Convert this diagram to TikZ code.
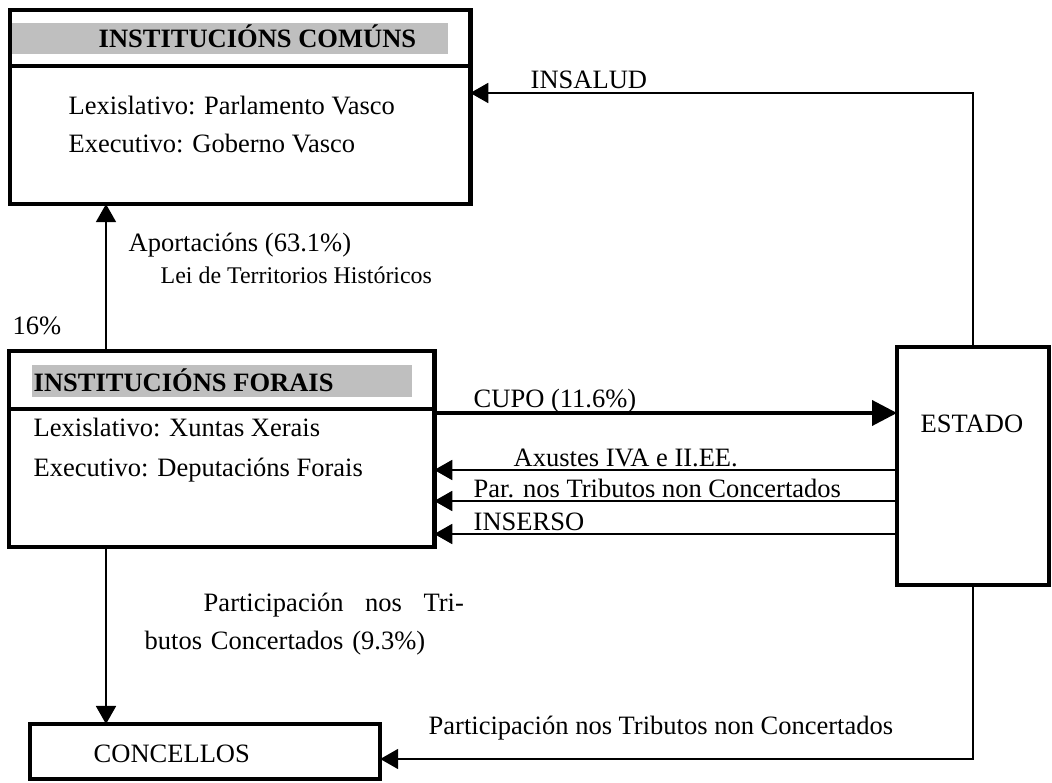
\documentclass[tikz,border=0pt]{standalone}
\usepackage{fontspec}
\setmainfont{Liberation Serif}
\usetikzlibrary{arrows.meta,positioning}

\begin{document}
\begin{tikzpicture}[x=0.01cm,y=-0.01cm,
  box/.style={draw,line width=1.3pt,anchor=north west,inner sep=0pt,outer sep=0pt},
  band/.style={fill=black!25,anchor=north west,inner sep=0pt,outer sep=0pt},
  lbl/.style={anchor=base west,inner sep=0pt,font=\fontsize{7.54}{10.8}\selectfont},
  ttl/.style={lbl,font=\fontsize{7.54}{10.8}\selectfont\bfseries},
  small/.style={lbl,font=\fontsize{6.8}{8.5}\selectfont},
  sepline/.style={line width=1.1pt},
  arr/.style={line width=0.5pt,-{Triangle[length=0.18cm,width=0.2cm]}},
  bigarr/.style={line width=1.1pt,-{Triangle[length=0.25cm,width=0.25cm]}}]
\useasboundingbox (0,0) rectangle (1052,783);
% boxes
\node[box,minimum width=4.60cm,minimum height=1.94cm] (comuns) at (10,10) {};
\node[box,minimum width=4.25cm,minimum height=1.96cm] (forais) at (9,351) {};
\node[box,minimum width=1.52cm,minimum height=2.38cm] (estado) at (897,347) {};
\node[box,minimum width=3.50cm,minimum height=0.55cm] (concellos) at (30,724) {};
\draw[sepline] ([yshift=-0.56cm]comuns.north west) -- ([yshift=-0.56cm]comuns.north east);
\draw[sepline] ([yshift=-0.58cm]forais.north west) -- ([yshift=-0.58cm]forais.north east);
% titles
\node[band,minimum width=4.36cm,minimum height=0.31cm] (comunsband) at (12,23) {};
\node[ttl] (comunstit) at (98,48) {INSTITUCIÓNS COMÚNS};
\node[band,minimum width=3.80cm,minimum height=0.32cm] (foraisband) at (32,365) {};
\node[ttl] (foraistit) at (33,392) {INSTITUCIÓNS FORAIS};
% box texts
\node[lbl] (lexcomuns) at (68,115) {Lexislativo: Parlamento Vasco};
\node[lbl] (execomuns) at (68,153) {Executivo: Goberno Vasco};
\node[lbl] (lexforais) at (33,437) {Lexislativo: Xuntas Xerais};
\node[lbl] (exeforais) at (33,477) {Executivo: Deputacións Forais};
\node[lbl] (estadotxt) at (920,433) {ESTADO};
\node[lbl] (concellostxt) at (93,762) {CONCELLOS};
% levels
\coordinate (xup) at (106,0);
\coordinate (yins) at (0,93);
\coordinate (ycupo) at (0,413);
\coordinate (yax) at (0,470);
\coordinate (ypar) at (0,501);
\coordinate (yinse) at (0,534);
\coordinate (ycon) at (0,759);
% connectors
\draw[arr] (forais.north -| xup) -- (comuns.south -| xup);
\draw[arr] (forais.south -| xup) -- (concellos.north -| xup);
\draw[arr] (estado.north) |- (comuns.east |- yins);
\draw[bigarr] (forais.east |- ycupo) -- (estado.west |- ycupo);
\draw[arr] (estado.west |- yax) -- (forais.east |- yax);
\draw[arr] (estado.west |- ypar) -- (forais.east |- ypar);
\draw[arr] (estado.west |- yinse) -- (forais.east |- yinse);
\draw[arr] (estado.south) |- (concellos.east |- ycon);
% labels
\node[lbl] (insalud) at (530,89) {INSALUD};
\node[lbl] (aport) at (128,252) {Aportacións (63.1\%)};
\node[small] (lei) at (160,284) {Lei de Territorios Históricos};
\node[lbl] (pct) at (12,335) {16\%};
\node[lbl] (cupo) at (473,408) {CUPO (11.6\%)};
\node[lbl] (axustes) at (513,467) {Axustes IVA e II.EE.};
\node[lbl] (partnc) at (473,498) {Par. nos Tributos non Concertados};
\node[lbl] (inserso) at (473,531) {INSERSO};
\node[lbl,text width=3.19cm] (partc) at (144,612) {\hspace*{0.59cm}Participación\hfill nos\hfill Tri-\\butos Concertados (9.3\%)};
\node[lbl] (partcon) at (428,735) {Participación nos Tributos non Concertados};
\end{tikzpicture}
\end{document}
